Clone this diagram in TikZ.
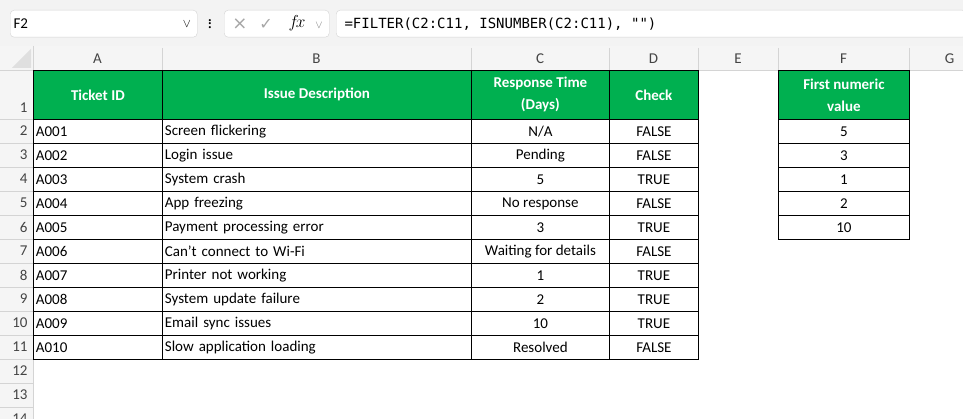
\documentclass[tikz,border=0pt]{standalone}
\usepackage{fontspec}
\setmainfont{Carlito}
\newfontfamily\monof{DejaVu Sans Mono}
\newfontfamily\djv{DejaVu Sans}
\definecolor{xgreen}{HTML}{00B050}
\definecolor{barbg}{HTML}{F3F3F3}
\definecolor{hdrbg}{HTML}{F5F5F5}
\definecolor{hdrline}{HTML}{D4D4D4}
\definecolor{txtgray}{HTML}{444444}
\begin{document}
\begin{tikzpicture}[x=1pt,y=-1pt,
  cell/.style={draw=black,line width=0.8pt,inner sep=2pt,font=\fontsize{15}{16}\selectfont},
  hcell/.style={cell,fill=xgreen,text=white,font=\bfseries\fontsize{15}{22}\selectfont,align=center},
  colh/.style={font=\fontsize{15}{16}\selectfont,text=txtgray},
  rowh/.style={font=\fontsize{15}{16}\selectfont,text=txtgray,anchor=east},
  box/.style={draw=hdrline,fill=white,rounded corners=4pt}]
\useasboundingbox (0,0) rectangle (963,419);
\fill[white] (0,0) rectangle (963,419);
\fill[barbg] (0,0) rectangle (963,46);
% formula bar
\node[box,minimum width=187,minimum height=27,anchor=north west] (nb) at (10,10) {};
\node[anchor=west,font=\fontsize{15}{16}\selectfont] (nbt) at (nb.west) {F2};
\node[anchor=east,font=\fontsize{12}{12}\selectfont] (nbv) at ([xshift=-3]nb.east) {$\vee$};
\node[font=\fontsize{14}{14}\selectfont] (dots) at (210,24) {\rotatebox{90}{\textbf{...}}};
\node[box,minimum width=105,minimum height=27,anchor=north west] (fxb) at (224,10) {};
\node[text=gray!70,font=\djv\fontsize{18}{18}\selectfont] (xm) at (240,24) {×};
\node[text=gray!70,font=\djv\fontsize{16}{16}\selectfont] (ck) at (266,24) {✓};
\node[font=\fontsize{17}{17}\selectfont] (fx) at (297,23) {$f\!x$};
\node[text=gray,font=\fontsize{11}{12}\selectfont] (fxv) at (319,25) {$\vee$};
\node[box,minimum width=630,minimum height=27,anchor=north west] (fb) at (336,10) {};
\node[anchor=west,font=\monof\fontsize{14}{15}\selectfont] (ft) at (341,24) {=FILTER(C2:C11, ISNUMBER(C2:C11), "")};
% headers
\fill[hdrbg] (0,46) rectangle (963,70);
\fill[hdrbg] (0,70) rectangle (33,419);
\draw[hdrline] (0,70) -- (963,70);
\draw[hdrline] (33,46) -- (33,419);
\fill[gray!25] (31,49) -- (31,68) -- (12,68) -- cycle;
\foreach \n/\a/\b in {A/33/162,B/162/471,C/471/609,D/609/698,E/698/778,F/778/909,G/909/990}{
  \node[colh] (col\n) at ({(\a+\b)/2},59) {\n};
  \draw[hdrline] (\a,48) -- (\a,70);
}
\node[rowh] (r1) at (31,108) {1};
\foreach \r in {2,...,14}{
  \node[rowh] (r\r) at (31,{119+(\r-2)*24+12}) {\r};
  \draw[hdrline] (0,{119+(\r-2)*24}) -- (33,{119+(\r-2)*24});
}
% header row
\node[hcell,minimum width=129,minimum height=49,anchor=north west] (h1) at (33,70) {Ticket ID};
\node[hcell,minimum width=309,minimum height=49,anchor=north west] (h2) at (162,70) {Issue Description};
\node[hcell,minimum width=138,minimum height=49,anchor=north west] (h3) at (471,70) {Response Time\\(Days)};
\node[hcell,minimum width=89,minimum height=49,anchor=north west] (h4) at (609,70) {Check};
\node[hcell,minimum width=131,minimum height=49,anchor=north west] (h6) at (778,70) {First numeric\\value};
\foreach \i/\id/\desc/\resp/\chk in {
 2/A001/Screen flickering/N\slash A/FALSE,
 3/A002/Login issue/Pending/FALSE,
 4/A003/System crash/5/TRUE,
 5/A004/App freezing/No response/FALSE,
 6/A005/Payment processing error/3/TRUE,
 7/A006/Can't connect to Wi-Fi/Waiting for details/FALSE,
 8/A007/Printer not working/1/TRUE,
 9/A008/System update failure/2/TRUE,
 10/A009/Email sync issues/10/TRUE,
 11/A010/Slow application loading/Resolved/FALSE}{
  \pgfmathsetmacro\yy{119+(\i-2)*24}
  \node[cell,minimum width=129,minimum height=24,anchor=north west,text width=124,align=left] (a\i) at (33,\yy) {\id};
  \node[cell,minimum width=309,minimum height=24,anchor=north west,text width=304,align=left] (b\i) at (162,\yy) {\desc};
  \node[cell,minimum width=138,minimum height=24,anchor=north west] (c\i) at (471,\yy) {\resp};
  \node[cell,minimum width=89,minimum height=24,anchor=north west] (d\i) at (609,\yy) {\chk};
}
\foreach \i/\v in {2/5,3/3,4/1,5/2,6/10}{
  \node[cell,minimum width=131,minimum height=24,anchor=north west] (f\i) at (778,{119+(\i-2)*24}) {\v};
}
\end{tikzpicture}
\end{document}
